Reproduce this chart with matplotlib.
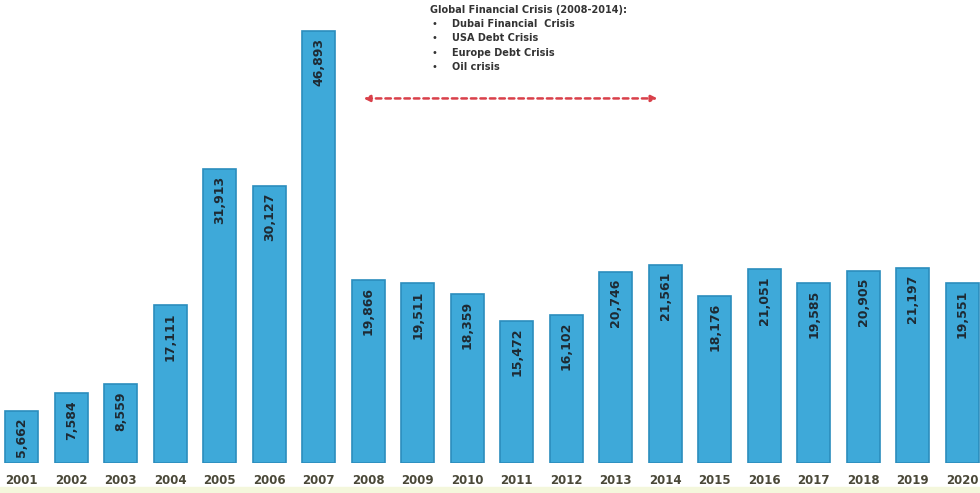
import numpy as np
import matplotlib
matplotlib.use('Agg')
import matplotlib.pyplot as plt

years = ['2001', '2002', '2003', '2004', '2005', '2006', '2007', '2008', '2009', '2010',
         '2011', '2012', '2013', '2014', '2015', '2016', '2017', '2018', '2019', '2020']
values = [5662, 7584, 8559, 17111, 31913, 30127, 46893, 19866, 19511, 18359,
          15472, 16102, 20746, 21561, 18176, 21051, 19585, 20905, 21197, 19551]
crisis_title = 'Global Financial Crisis (2008-2014):'
crisis_items = ['Dubai Financial  Crisis', 'USA Debt Crisis', 'Europe Debt Crisis', 'Oil crisis']

fig = plt.figure(figsize=(9.8, 4.93), dpi=100)
fig.patch.set_facecolor('white')
# pale strip along the bottom of the scan
fig.patches.append(plt.Rectangle((0, 0), 1, 6 / 493, transform=fig.transFigure,
                                 color='#f4f7dc', zorder=0))

ax = fig.add_axes([0, 30 / 493, 1, 433 / 493])
x = np.arange(len(years))
ax.bar(x, values, width=0.66, color='#3ea9d9', edgecolor='#2b8dbd', linewidth=1.2)

for xi, v in zip(x, values):
    ax.annotate(f'{v:,}', (xi, v), xytext=(0, -5), textcoords='offset points',
                rotation=90, ha='center', va='top', fontsize=9,
                fontweight='bold', color='#1e2a33')

ax.set_xlim(-0.44, 19.36)
ax.set_ylim(0, 46893 * 1.003)
ax.set_xticks(x)
ax.set_xticklabels(years, fontsize=8.5, fontweight='bold', color='#4a4838')
ax.tick_params(axis='x', length=0, pad=8)
ax.set_yticks([])
for s in ax.spines.values():
    s.set_visible(False)

# crisis note (figure coords, above the axes) and arrow
fig.text(430 / 980, 1 - 10 / 493, crisis_title, fontsize=7, fontweight='bold',
         color='#333333', va='center')
for i, item in enumerate(crisis_items):
    yy = 1 - (24 + i * 14.3) / 493
    fig.text(431 / 980, yy, '\u2022', fontsize=7, color='#333333', va='center')
    fig.text(452 / 980, yy, item, fontsize=7, fontweight='bold',
             color='#333333', va='center')

ax.annotate('', xy=(12.9, 39600), xytext=(6.85, 39600),
            arrowprops=dict(arrowstyle='<|-|>', color='#d9404a', lw=1.8,
                            linestyle=(0, (2.2, 1.6)), mutation_scale=9))

fig.savefig('out.png', dpi=100)
